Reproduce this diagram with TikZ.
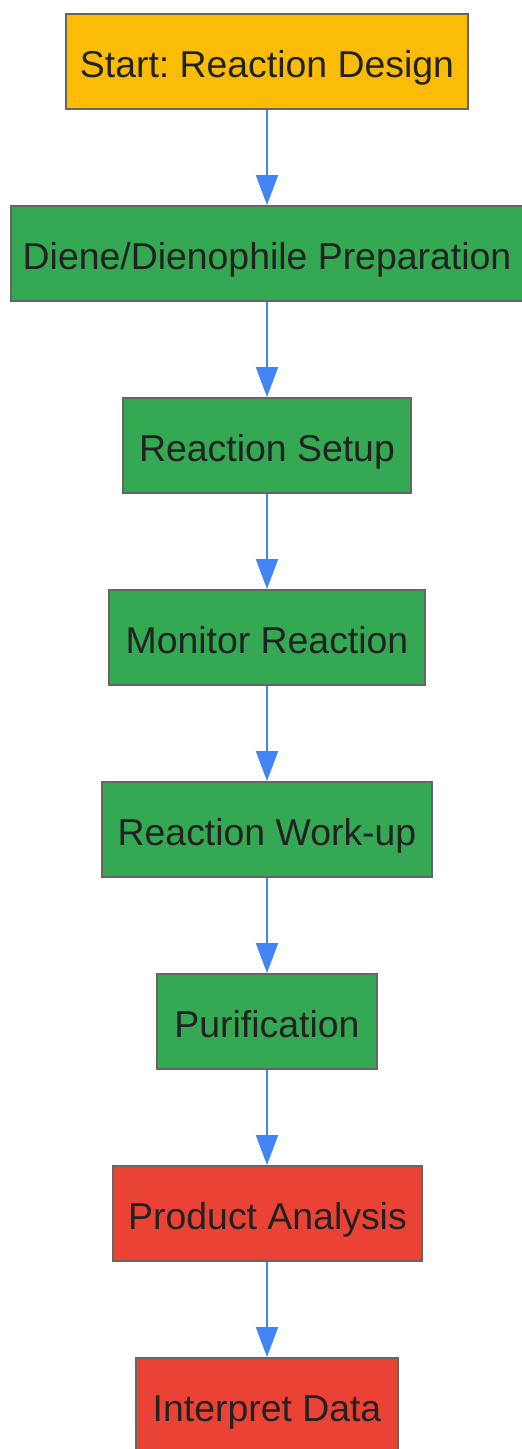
\documentclass[tikz,border=0pt]{standalone}
\usepackage{fontspec}
\setmainfont{Liberation Sans}
\usetikzlibrary{arrows.meta}
\frenchspacing
\definecolor{cyellow}{HTML}{FBBC05}
\definecolor{cgreen}{HTML}{34A853}
\definecolor{cred}{HTML}{EA4335}
\definecolor{cborder}{HTML}{666666}
\definecolor{carrow}{HTML}{4285F4}
\definecolor{ctext}{HTML}{222222}
\tikzset{
  stepbox/.style={draw=cborder, line width=2pt, rectangle, minimum height=95pt,
    inner sep=0pt, text height=35pt, text depth=4pt, text=ctext,
    font=\fontsize{37.4pt}{40pt}\selectfont\frenchspacing},
  flowarrow/.style={draw=carrow, line width=2pt, -{Triangle[length=30pt, width=22pt]}}
}
\begin{document}
\begin{tikzpicture}[x=1pt, y=-1pt]
\useasboundingbox (0,0) rectangle (522,1449);
\node[stepbox, fill=cyellow, minimum width=402pt] (n1) at (267,61.5) {Start: Reaction Design};
\node[stepbox, fill=cgreen, minimum width=512pt] (n2) at (267,253.5) {Diene/Dienophile Preparation};
\node[stepbox, fill=cgreen, minimum width=288pt] (n3) at (267,445.5) {Reaction Setup};
\node[stepbox, fill=cgreen, minimum width=316pt] (n4) at (267,637.5) {Monitor Reaction};
\node[stepbox, fill=cgreen, minimum width=330pt] (n5) at (267,829.5) {Reaction Work-up};
\node[stepbox, fill=cgreen, minimum width=220pt] (n6) at (267,1021.5) {Purification};
\node[stepbox, fill=cred, minimum width=309pt] (n7) at (267.5,1213.5) {Product Analysis};
\node[stepbox, fill=cred, minimum width=262pt] (n8) at (267,1405.5) {Interpret Data};
\draw[flowarrow] (n1.south) -- (n2.north);
\draw[flowarrow] (n2.south) -- (n3.north);
\draw[flowarrow] (n3.south) -- (n4.north);
\draw[flowarrow] (n4.south) -- (n5.north);
\draw[flowarrow] (n5.south) -- (n6.north);
\draw[flowarrow] (n6.south) -- (n7.north -| n6.south);
\draw[flowarrow] (n7.south -| n8.north) -- (n8.north);
\end{tikzpicture}
\end{document}
